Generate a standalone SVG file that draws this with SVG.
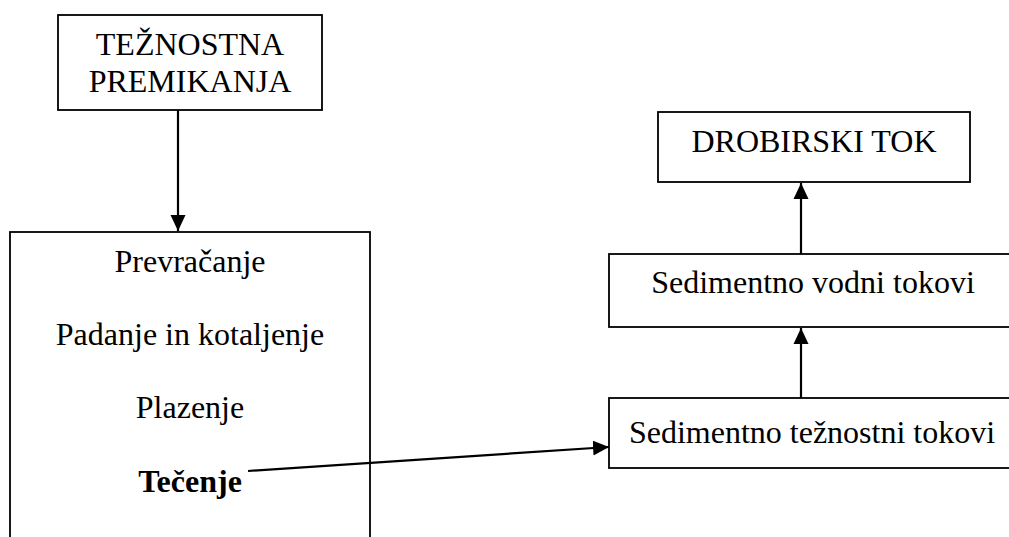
<svg xmlns="http://www.w3.org/2000/svg" width="1009" height="537" viewBox="0 0 1009 537">
<style>
.box{fill:#fff;stroke:#000;stroke-width:1.8}
.t{font-family:"Liberation Serif","Times New Roman",serif;font-size:32px;fill:#000;text-anchor:middle}
.b{font-weight:bold}
.c{stroke:#000;stroke-width:2.2;fill:none}
</style>
<defs>
<marker id="ah" markerWidth="16" markerHeight="16" refX="16" refY="8" orient="auto" markerUnits="userSpaceOnUse">
<path d="M0,0.5 L16,8 L0,15.5 Z" fill="#000"/>
</marker>
</defs>
<rect width="1009" height="537" fill="#fff"/>
<g id="n-teznostna">
<rect class="box" x="58" y="15" width="264" height="95"/>
<text class="t" x="190" y="55">TEŽNOSTNA</text>
<text class="t" x="190" y="92">PREMIKANJA</text>
</g>
<g id="n-list">
<rect class="box" x="10" y="232" width="360" height="330"/>
<text class="t" x="190" y="272">Prevračanje</text>
<text class="t" x="190" y="345">Padanje in kotaljenje</text>
<text class="t" x="190" y="418">Plazenje</text>
<text class="t b" x="190" y="492">Tečenje</text>
</g>
<g id="n-drobirski">
<rect class="box" x="658" y="112" width="312" height="70"/>
<text class="t" x="814" y="152">DROBIRSKI TOK</text>
</g>
<g id="n-vodni">
<rect class="box" x="609" y="254" width="420" height="73"/>
<text class="t" x="813" y="293">Sedimentno vodni tokovi</text>
</g>
<g id="n-teznostni">
<rect class="box" x="609" y="398" width="420" height="70"/>
<text class="t" x="812" y="443">Sedimentno težnostni tokovi</text>
</g>
<g id="connectors">
<line class="c" x1="178" y1="110" x2="178" y2="231" marker-end="url(#ah)"/>
<line class="c" x1="801" y1="254" x2="801" y2="183" marker-end="url(#ah)"/>
<line class="c" x1="801" y1="398" x2="801" y2="328" marker-end="url(#ah)"/>
<line class="c" x1="248" y1="471" x2="609" y2="447" marker-end="url(#ah)"/>
</g>
</svg>
